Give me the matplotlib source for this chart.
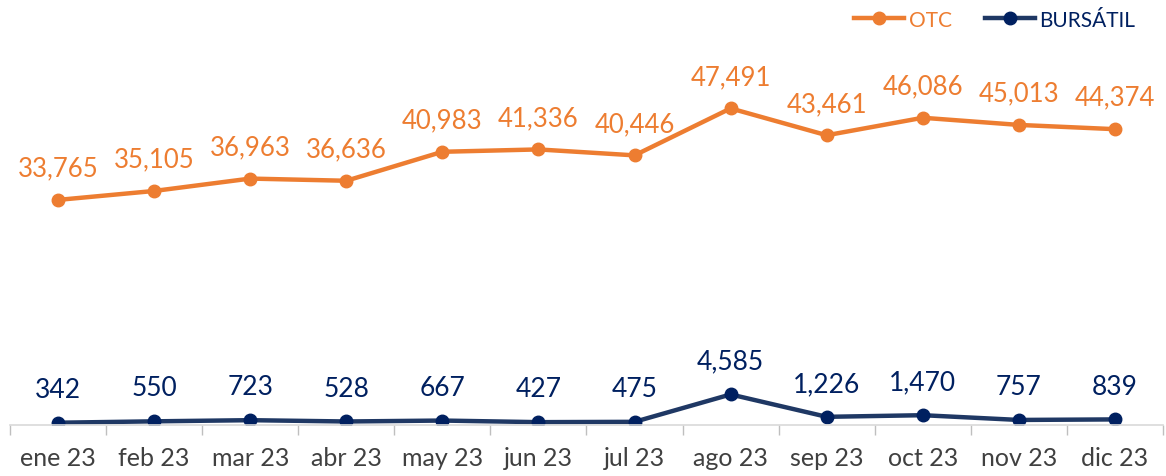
import matplotlib.pyplot as plt
import numpy as np

plt.rcParams['font.family'] = ['Lato', 'DejaVu Sans']

meses = ["ene 23", "feb 23", "mar 23", "abr 23", "may 23", "jun 23",
         "jul 23", "ago 23", "sep 23", "oct 23", "nov 23", "dic 23"]
otc = [33765, 35105, 36963, 36636, 40983, 41336, 40446, 47491, 43461, 46086, 45013, 44374]
bursatil = [342, 550, 723, 528, 667, 427, 475, 4585, 1226, 1470, 757, 839]

c_otc = "#ED7D31"
c_bur = "#1F3864"
c_bur_txt = "#002060"

fig = plt.figure(figsize=(11.66, 4.77), dpi=100)
ax = fig.add_axes([10 / 1166, 51 / 477, 1153 / 1166, 396 / 477])

x = np.arange(len(meses))
ax.plot(x, otc, color=c_otc, lw=3.2, marker="o", ms=9, label="OTC")
ax.plot(x, bursatil, color=c_bur, lw=3.2, marker="o", ms=9,
        markerfacecolor=c_bur_txt, markeredgecolor=c_bur_txt, label="BURSÁTIL")

for xi, v in zip(x, otc):
    ax.annotate(f"{v:,}", (xi, v), xytext=(0, 14), textcoords="offset points",
                ha="center", va="bottom", fontsize=18.5, color=c_otc)
for xi, v in zip(x, bursatil):
    ax.annotate(f"{v:,}", (xi, v), xytext=(0, 15), textcoords="offset points",
                ha="center", va="bottom", fontsize=19, color=c_bur_txt)

ax.set_xlim(-0.5, len(meses) - 0.5)
ax.set_ylim(0, 59400)
ax.set_xticks(x)
ax.set_xticklabels(meses, fontsize=18, color="#404040")
ax.set_xticks(np.arange(-0.5, len(meses)), minor=True)
ax.tick_params(axis="x", which="major", length=0, pad=15)
ax.tick_params(axis="x", which="minor", length=7, color="#BFBFBF", width=1)
ax.set_yticks([])
for s in ["top", "right", "left"]:
    ax.spines[s].set_visible(False)
ax.spines["bottom"].set_color("#D9D9D9")
ax.spines["bottom"].set_linewidth(1.2)

leg = ax.legend(loc="upper right", bbox_to_anchor=(0.983, 1.07), ncol=2, frameon=False,
                fontsize=15, handlelength=2.4, columnspacing=1.6, handletextpad=0.2,
                borderaxespad=0)
leg.get_texts()[0].set_color(c_otc)
leg.get_texts()[1].set_color(c_bur_txt)

fig.savefig("out.png", dpi=100)
